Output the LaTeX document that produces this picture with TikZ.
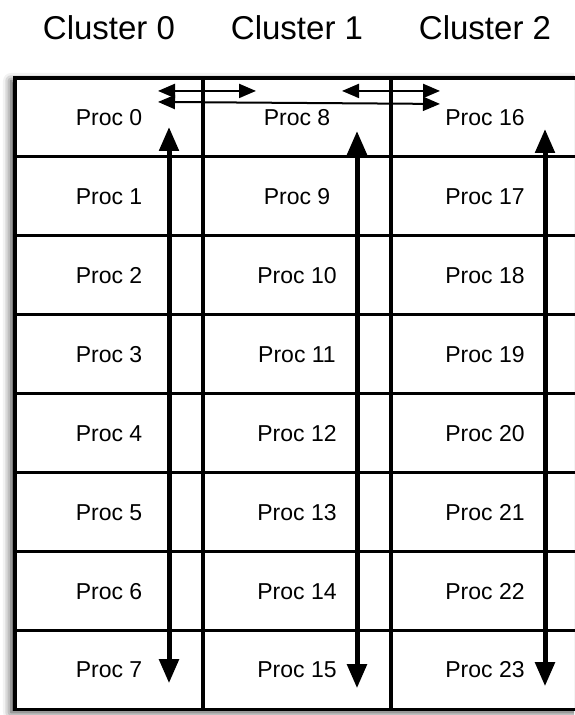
\documentclass[tikz,border=0pt]{standalone}
\usepackage{fontspec}
\setmainfont{Liberation Sans}
\usepackage{tikz}
\usetikzlibrary{positioning}
\usetikzlibrary{calc}
\usetikzlibrary{arrows.meta}
\usetikzlibrary{shadows.blur}

\begin{document}
\begin{tikzpicture}[x=1pt, y=1pt,
    proc/.style={draw, line width=3.2pt, minimum width=188pt, minimum height=78.9pt, inner sep=0pt, outer sep=0pt, text height=16.5pt, text depth=0pt, font=\fontsize{23}{27}\selectfont},
    cluster/.style={inner sep=0pt, font=\fontsize{33}{40}\selectfont},
    bus/.style={line width=5pt, {Triangle[length=24pt,width=19pt,fill=black]}-{Triangle[length=24pt,width=19pt,fill=black]}},
    link/.style={line width=2pt, {Triangle[length=17pt,width=14pt,fill=black]}-{Triangle[length=17pt,width=14pt,fill=black]}}]

    \useasboundingbox (0,0) rectangle (574,715);

    \begin{scope}
    \clip (0,0) rectangle (574,715);
    \fill[white, blur shadow={shadow xshift=-4pt, shadow yshift=-3pt, shadow blur radius=8pt, shadow opacity=80}] (15,637) rectangle (579,5.8);
    \end{scope}

    \node[proc, anchor=north west] (p0) at (15,637) {Proc 0};
    \node[proc, below=0pt of p0] (p1) {Proc 1};
    \node[proc, below=0pt of p1] (p2) {Proc 2};
    \node[proc, below=0pt of p2] (p3) {Proc 3};
    \node[proc, below=0pt of p3] (p4) {Proc 4};
    \node[proc, below=0pt of p4] (p5) {Proc 5};
    \node[proc, below=0pt of p5] (p6) {Proc 6};
    \node[proc, below=0pt of p6] (p7) {Proc 7};

    \node[proc, right=0pt of p0] (p8) {Proc 8};
    \node[proc, below=0pt of p8] (p9) {Proc 9};
    \node[proc, below=0pt of p9] (p10) {Proc 10};
    \node[proc, below=0pt of p10] (p11) {Proc 11};
    \node[proc, below=0pt of p11] (p12) {Proc 12};
    \node[proc, below=0pt of p12] (p13) {Proc 13};
    \node[proc, below=0pt of p13] (p14) {Proc 14};
    \node[proc, below=0pt of p14] (p15) {Proc 15};

    \node[proc, right=0pt of p8] (p16) {Proc 16};
    \node[proc, below=0pt of p16] (p17) {Proc 17};
    \node[proc, below=0pt of p17] (p18) {Proc 18};
    \node[proc, below=0pt of p18] (p19) {Proc 19};
    \node[proc, below=0pt of p19] (p20) {Proc 20};
    \node[proc, below=0pt of p20] (p21) {Proc 21};
    \node[proc, below=0pt of p21] (p22) {Proc 22};
    \node[proc, below=0pt of p22] (p23) {Proc 23};

    \node[cluster, above=38pt of p0] (c0) {Cluster 0};
    \node[cluster, above=38pt of p8] (c1) {Cluster 1};
    \node[cluster, above=38pt of p16] (c2) {Cluster 2};

    \coordinate (t0) at ($(p0.center)+(60,-9.5)$);
    \coordinate (b0) at ($(p7.center)+(60,-13.5)$);
    \coordinate (t1) at ($(p8.center)+(60,-13.5)$);
    \coordinate (b1) at ($(p15.center)+(60,-18.5)$);
    \coordinate (t2) at ($(p16.center)+(60,-11.5)$);
    \coordinate (b2) at ($(p23.center)+(60,-16.5)$);

    \coordinate (l0) at ($(p0.center)+(49,26.5)$);
    \coordinate (l8) at ($(p8.center)+(-41,26.5)$);
    \coordinate (r8) at ($(p8.center)+(45,26.5)$);
    \coordinate (r16) at ($(p16.center)+(-45,26.5)$);
    \coordinate (m0) at ($(p0.center)+(49,15.5)$);
    \coordinate (m16) at ($(p16.center)+(-45,13.5)$);

    \draw[bus] (t0) -- (b0);
    \draw[bus] (t1) -- (b1);
    \draw[bus] (t2) -- (b2);

    \draw[link] (l0) -- (l8);
    \draw[link] (r8) -- (r16);
    \draw[link] (m0) -- (m16);

\end{tikzpicture}
\end{document}
